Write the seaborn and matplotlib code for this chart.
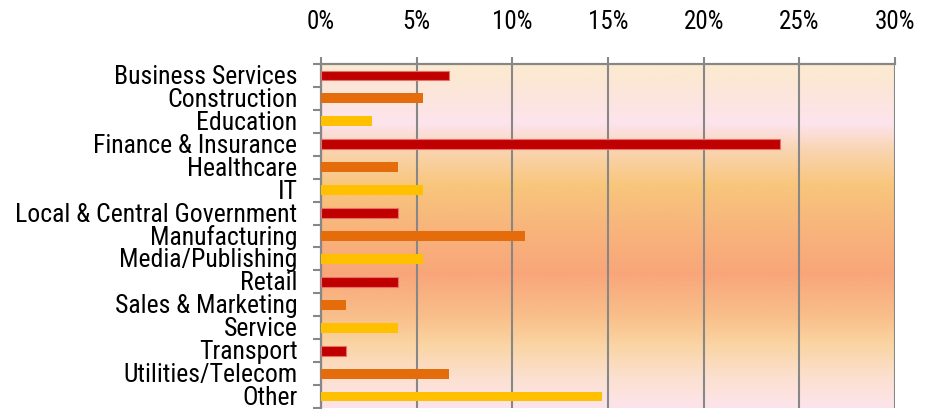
import numpy as np
import pandas as pd
import matplotlib
matplotlib.use("Agg")
import matplotlib.pyplot as plt
from matplotlib.colors import LinearSegmentedColormap
from matplotlib.ticker import FixedLocator, FuncFormatter
from matplotlib.transforms import ScaledTranslation
import seaborn as sns

# Share of respondents by industry sector (%)
sectors = [
    "Business Services", "Construction", "Education", "Finance & Insurance",
    "Healthcare", "IT", "Local & Central Government", "Manufacturing",
    "Media/Publishing", "Retail", "Sales & Marketing", "Service",
    "Transport", "Utilities/Telecom", "Other",
]
share = [6.67, 5.33, 2.67, 24.0, 4.0, 5.33, 4.0, 10.67, 5.33, 4.0,
         1.33, 4.0, 1.33, 6.67, 14.67]
x_ticks = [0, 5, 10, 15, 20, 25, 30]

bar_cycle = ["#C00000", "#E46C0A", "#FFC000"]
bar_colors = [bar_cycle[i % 3] for i in range(len(sectors))]

df = pd.DataFrame({"sector": sectors, "share": share})

sns.set_theme(style="white")
plt.rcParams["font.family"] = ["Roboto Condensed", "Roboto", "DejaVu Sans"]

fig = plt.figure(figsize=(9.25, 4.10), dpi=100)
ax = fig.add_axes([321 / 925, 1 - 409 / 410, (895 - 321) / 925, (409 - 65) / 410])

# vertical gradient fill behind the bars
stops = [
    (0.00, "#FCEBD0"), (0.07, "#FCE6D8"), (0.17, "#FDE4EE"), (0.25, "#F9D4B0"),
    (0.35, "#F8C67C"), (0.48, "#F8B47C"), (0.61, "#F9A679"), (0.74, "#F9C08C"),
    (0.81, "#FAD3A0"), (0.91, "#FCE0CE"), (1.00, "#FDE4EC"),
]
cmap = LinearSegmentedColormap.from_list("bg", stops)
grad = np.linspace(0, 1, 400).reshape(-1, 1)
ax.imshow(grad, cmap=cmap, aspect="auto", extent=(0, 1, 0, 1),
          transform=ax.transAxes, zorder=0, interpolation="bicubic")

sns.barplot(data=df, x="share", y="sector", hue="sector", palette=bar_colors,
            legend=False, width=0.43, orient="h", ax=ax, zorder=3,
            linewidth=0, saturation=1)
for patch, col in zip(ax.patches, bar_colors):
    if col == "#C00000":
        patch.set_edgecolor("#E8706A")
        patch.set_linewidth(0.8)

ax.set_xlim(0, 30)
ax.set_ylim(len(sectors) - 0.5, -0.5)
ax.set_xlabel("")
ax.set_ylabel("")

grid_col = "#878787"
ax.xaxis.set_major_locator(FixedLocator(x_ticks))
ax.xaxis.set_major_formatter(FuncFormatter(lambda v, p: f"{v:.0f}%"))
ax.xaxis.tick_top()
ax.xaxis.grid(True, color=grid_col, linewidth=1.5, zorder=1)
ax.set_axisbelow(True)
for gl in ax.get_xgridlines():
    gl.set_zorder(1)
ax.tick_params(axis="x", which="major", direction="out", length=5, width=1.5,
               color=grid_col, pad=17, labelsize=18, labelcolor="black",
               top=True, bottom=False, labeltop=True, labelbottom=False)

ax.yaxis.set_minor_locator(FixedLocator(np.arange(-0.5, len(sectors), 1.0)))
ax.tick_params(axis="y", which="major", length=0, pad=17, labelsize=18.5,
               labelcolor="black", left=True)
ax.tick_params(axis="y", which="minor", direction="out", length=6, width=1.5,
               color=grid_col, left=True)

# nudge the category labels up a touch
nudge = ScaledTranslation(0, 2 / 100, fig.dpi_scale_trans)
for lbl in ax.get_yticklabels():
    lbl.set_transform(lbl.get_transform() + nudge)

for side in ("left", "top"):
    ax.spines[side].set_visible(True)
    ax.spines[side].set_color(grid_col)
    ax.spines[side].set_linewidth(1.6)
for side in ("right", "bottom"):
    ax.spines[side].set_visible(False)

fig.savefig("out.png", dpi=100)
